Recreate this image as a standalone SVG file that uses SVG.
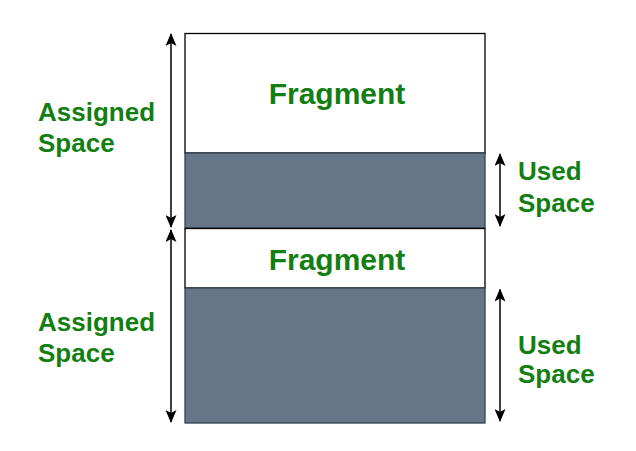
<svg xmlns="http://www.w3.org/2000/svg" width="636" height="451" viewBox="0 0 636 451">
<style>
.lbl{font-family:"Liberation Sans",Arial,sans-serif;font-weight:bold;fill:#137f13;font-size:26px}
.frag{font-family:"Liberation Sans",Arial,sans-serif;font-weight:bold;fill:#137f13;font-size:30px;text-anchor:middle}
.free{fill:#ffffff;stroke:#000000;stroke-width:1.3}
.used{fill:#647687;stroke:#314354;stroke-width:1.3}
.arr{stroke:#000000;stroke-width:1.5;fill:none;marker-start:url(#ah);marker-end:url(#ah)}
</style>
<defs>
<marker id="ah" viewBox="0 0 13 11" refX="12" refY="5.5" markerWidth="13" markerHeight="11" markerUnits="userSpaceOnUse" orient="auto-start-reverse">
<path d="M0,0 L13,5.5 L0,11 L3,5.5 Z" fill="#000000"/>
</marker>
</defs>
<rect width="636" height="451" fill="#ffffff"/>
<g id="frag1">
<rect class="free" x="185" y="33.5" width="300" height="119.5"/>
<text class="frag" x="337" y="104">Fragment</text>
</g>
<g id="used1">
<rect class="used" x="185" y="153" width="300" height="75"/>
</g>
<g id="frag2">
<rect class="free" x="185" y="228.5" width="300" height="59.5"/>
<text class="frag" x="337" y="269.5">Fragment</text>
</g>
<g id="used2">
<rect class="used" x="185" y="288" width="300" height="135"/>
</g>
<g id="assigned1">
<text class="lbl" x="38" y="121" font-size="27.6">Assigned</text>
<text class="lbl" x="38" y="152" font-size="27.6">Space</text>
</g>
<g id="assigned2">
<text class="lbl" x="38" y="331" font-size="27.6">Assigned</text>
<text class="lbl" x="38" y="362" font-size="27.6">Space</text>
</g>
<g id="usedlbl1">
<text class="lbl" x="518" y="179.5">Used</text>
<text class="lbl" x="518" y="211.5">Space</text>
</g>
<g id="usedlbl2">
<text class="lbl" x="518" y="353.5">Used</text>
<text class="lbl" x="518" y="382.5">Space</text>
</g>
<g id="connectors">
<line class="arr" x1="171" y1="34" x2="171" y2="227"/>
<line class="arr" x1="171" y1="230" x2="171" y2="422"/>
<line class="arr" x1="500" y1="154" x2="500" y2="226"/>
<line class="arr" x1="500" y1="289.5" x2="500" y2="421"/>
</g>
</svg>
